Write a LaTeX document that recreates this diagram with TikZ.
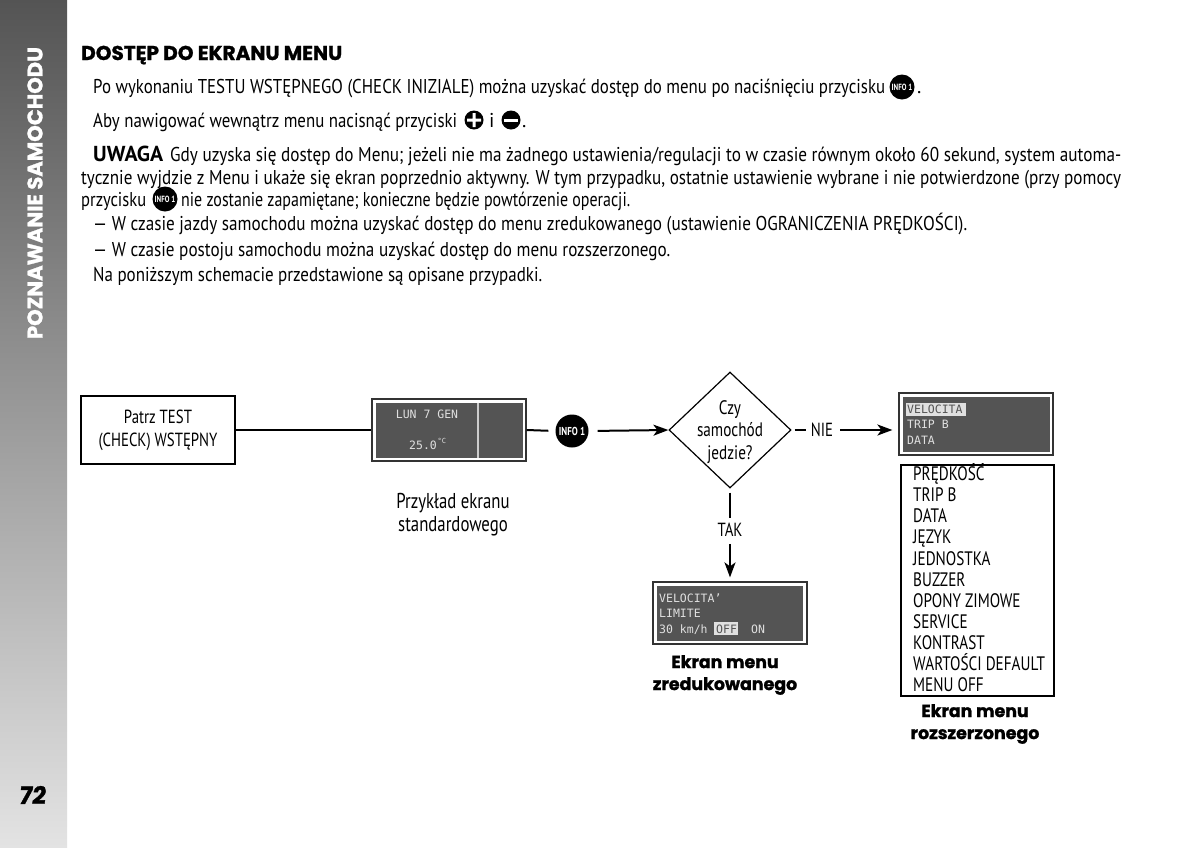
\documentclass[tikz,border=0pt]{standalone}
\usepackage{fontspec}
\usepackage{graphicx}
\setmainfont{PT Sans}
\newfontfamily\condf[FakeStretch=0.78]{PT Sans}
\newfontfamily\headf[FakeBold=1.2]{Poppins Bold}
\newfontfamily\lcdf{DejaVu Sans Mono}
\definecolor{lcdbg}{gray}{0.33}
\definecolor{lcdfg}{gray}{0.88}
\usetikzlibrary{shapes.geometric,arrows.meta}
\tikzset{
  x=1pt,y=-1pt,
  bodyt/.style={anchor=base west,inner sep=0pt,font=\fontsize{20}{23}\selectfont},
  flowt/.style={inner sep=0pt,align=center,font=\condf\fontsize{19}{23}\selectfont},
  capn/.style={inner sep=0pt,align=center,font=\condf\fontsize{21.5}{23}\selectfont},
  capt/.style={inner sep=0pt,align=center,font=\headf\fontsize{17.4}{22}\selectfont},
  listt/.style={anchor=base west,inner sep=0pt,font=\condf\fontsize{19.5}{23}\selectfont},
  lcdt/.style={anchor=base west,inner sep=0pt,text=lcdfg,font=\lcdf\fontsize{11.5}{14}\selectfont},
  infob/.style={circle,fill=black,text=white,inner sep=0pt,minimum size=#1},
  arrowc/.style={line width=2pt,-{Stealth[length=15pt,width=11pt,inset=4pt]}},
  linec/.style={line width=2pt},
  lcdframe/.style={draw=black!80,line width=1.2pt,fill=white,minimum height=62pt,minimum width=154pt,inner sep=0pt},
}
\newsavebox{\fitb}
\newcommand{\fitline}[4]{%
  \node[bodyt] at (#1,#2) {\sbox{\fitb}{#4}\pgfmathsetmacro{\fitr}{#3/\wd\fitb}\scalebox{\fitr}[1]{\usebox{\fitb}}};}
\begin{document}
\begin{tikzpicture}
\useasboundingbox (0,0) rectangle (1200,847);
\fill[white] (0,0) rectangle (1200,847);
% sidebar
\shade[top color=black!67,bottom color=black!11] (0,0) rectangle (67,847);
\node[rotate=90,inner sep=0pt,text=white,font=\headf\fontsize{17}{20}\selectfont] (side) at (35,193) {\resizebox{292pt}{!}{POZNAWANIE SAMOCHODU}};
\node[inner sep=0pt,xslant=0.12,font=\headf\fontsize{24}{28}\selectfont] (pg) at (33,795) {72};
% text
\node[anchor=base west,inner sep=0pt,font=\headf\fontsize{17}{20}\selectfont] (hd) at (81,60) {\resizebox{261pt}{!}{DOSTĘP DO EKRANU MENU}};
\fitline{93}{93}{792}{Po wykonaniu TESTU WSTĘPNEGO (CHECK INIZIALE) można uzyskać dostęp do menu po naciśnięciu przycisku}
\node[infob=25pt,font=\condf\bfseries\fontsize{9}{10}\selectfont] (i1) at (902,87) {INFO 1};
\node[bodyt] (p1) at (917,93) {.};
\fitline{93}{127}{364}{Aby nawigować wewnątrz menu nacisnąć przyciski}
\node[circle,fill=black,minimum size=19pt,inner sep=0pt] (plus) at (474,120) {};
\fill[white] (467,118.5) rectangle (481,121.5) (472.5,113) rectangle (475.5,127);
\node[bodyt] (iw) at (489,127) {i};
\node[circle,fill=black,minimum size=19pt,inner sep=0pt] (minus) at (511,120) {};
\fill[white] (504,118.5) rectangle (518,121.5);
\node[bodyt] (p2) at (522,127) {.};
\node[bodyt,font=\bfseries\fontsize{20}{23}\selectfont] (uw) at (93,161) {\resizebox{70pt}{!}{UWAGA}};
\fitline{170}{161}{951}{Gdy uzyska się dostęp do Menu; jeżeli nie ma żadnego ustawienia/regulacji to w czasie równym około 60 sekund, system automa-}
\fitline{81}{184}{1040}{tycznie wyjdzie z Menu i ukaże się ekran poprzednio aktywny. W tym przypadku, ostatnie ustawienie wybrane i nie potwierdzone (przy pomocy}
\fitline{81}{206}{65}{przycisku}
\node[infob=25pt,font=\condf\bfseries\fontsize{9}{10}\selectfont] (i2) at (165,199) {INFO 1};
\fitline{181}{206}{449}{nie zostanie zapamiętane; konieczne będzie powtórzenie operacji.}
\fitline{93}{230}{874}{— W czasie jazdy samochodu można uzyskać dostęp do menu zredukowanego (ustawienie OGRANICZENIA PRĘDKOŚCI).}
\fitline{93}{256}{577}{— W czasie postoju samochodu można uzyskać dostęp do menu rozszerzonego.}
\fitline{93}{281}{449}{Na poniższym schemacie przedstawione są opisane przypadki.}
% flow
\node[draw=black,line width=1.2pt,minimum width=154pt,minimum height=68pt,flowt] (start) at (158,430) {\raisebox{-1pt}{Patrz TEST}\\\raisebox{-1pt}{(CHECK) WSTĘPNY}};
% display 1
\node[lcdframe] (d1) at (449,430) {};
\fill[lcdbg] (375.5,402.5) rectangle (522.5,458);
\draw[white!80!black,line width=1.2pt] (478,402.5) -- (478,458);
\node[lcdt,anchor=base] at (427,418) {LUN 7 GEN};
\node[lcdt] at (409,449) {25.0};
\node[lcdt,font=\lcdf\fontsize{7}{8}\selectfont] at (437.5,443) {°C};
\node[capn] (cap1) at (453,515) {Przykład ekranu\\standardowego};
\node[infob=33pt,font=\condf\bfseries\fontsize{11.5}{12}\selectfont] (info) at (572,431) {INFO 1};
\node[diamond,draw=black,line width=1.2pt,minimum width=122pt,minimum height=116pt,inner sep=0pt] (q) at (730,430) {};
\node[flowt,font=\condf\fontsize{19.5}{22.5}\selectfont] (qt) at (730,432) {Czy\\samochód\\jedzie?};
\node[flowt] (nie) at (822,430) {NIE};
\node[flowt] (tak) at (730,530) {TAK};
\node[lcdframe] (d3) at (976,424) {};
\fill[lcdbg] (903,396.5) rectangle (1049.5,451.5);
\fill[lcdfg] (906,403) rectangle (966,416);
\node[lcdt,text=lcdbg] at (907,413) {VELOCITA};
\node[lcdt] at (907,428.5) {TRIP B};
\node[lcdt] at (907,444) {DATA};
\node[lcdframe] (d2) at (730,613) {};
\fill[lcdbg] (656.5,585.5) rectangle (803,640.5);
\fill[lcdfg] (714,621.5) rectangle (738,635);
\node[lcdt] at (659,602) {VELOCITA’};
\node[lcdt] at (659,617.5) {LIMITE};
\node[lcdt] at (659,633) {30 km/h};
\node[lcdt,text=lcdbg] at (716,633) {OFF};
\node[lcdt] at (751,633) {ON};
\node[capt] (cap2) at (725,675) {Ekran menu\\zredukowanego};
% list
\node[draw=black,line width=1.2pt,minimum width=153pt,minimum height=231pt,inner sep=0pt] (lst) at (977.5,580.5) {};
\node[listt] at (913,480) {PRĘDKOŚĆ};
\node[listt] at (913,501) {TRIP B};
\node[listt] at (913,522) {DATA};
\node[listt] at (913,543) {JĘZYK};
\node[listt] at (913,565) {JEDNOSTKA};
\node[listt] at (913,586) {BUZZER};
\node[listt] at (913,607) {OPONY ZIMOWE};
\node[listt] at (913,628) {SERVICE};
\node[listt] at (913,649) {KONTRAST};
\node[listt] at (913,670) {WARTOŚCI DEFAULT};
\node[listt] at (913,691) {MENU OFF};
\node[capt] (cap3) at (975,724) {Ekran menu\\rozszerzonego};
% connectors
\draw[linec] (start.east) -- (d1.west);
\draw[linec,shorten >=7pt] (d1.east) -- (info.west);
\draw[arrowc,shorten <=9pt] (info.east) -- (q.west);
\draw[linec,shorten <=3pt,shorten >=5pt] (q.east) -- (nie.west);
\draw[arrowc,shorten <=7pt,shorten >=6pt] (nie.east) -- (d3.west |- nie.east);
\draw[linec,shorten <=4pt,shorten >=5pt] (q.south) -- (tak.north);
\draw[arrowc,shorten <=7pt,shorten >=4pt] (tak.south) -- (d2.north);
\end{tikzpicture}
\end{document}
